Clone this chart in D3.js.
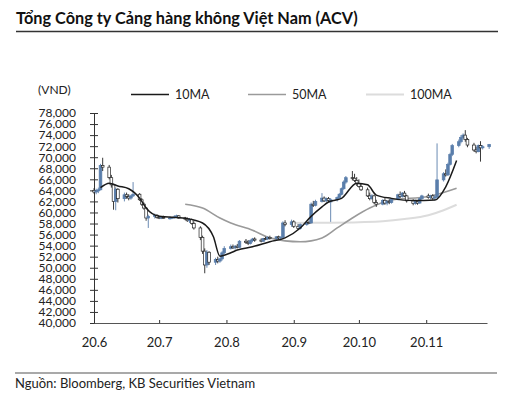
<!DOCTYPE html>
<html><head><meta charset="utf-8">
<script src="https://cdn.jsdelivr.net/npm/d3@7"></script>
<style>
html,body{margin:0;padding:0;background:#fff;}
svg{display:block;font-family:Lato,"Open Sans",sans-serif;}
</style></head>
<body><svg id="c" width="514" height="401"></svg>
<script>
// ---------- DATA ----------
const tradeDates = [
"2020-06-01","2020-06-02","2020-06-03","2020-06-04","2020-06-05","2020-06-08","2020-06-09","2020-06-10","2020-06-11","2020-06-12","2020-06-15","2020-06-16","2020-06-17","2020-06-18","2020-06-19","2020-06-22","2020-06-23","2020-06-24","2020-06-25","2020-06-26","2020-06-29","2020-06-30",
"2020-07-01","2020-07-02","2020-07-03","2020-07-06","2020-07-07","2020-07-08","2020-07-09","2020-07-10","2020-07-13","2020-07-14","2020-07-15","2020-07-16","2020-07-17","2020-07-20","2020-07-21","2020-07-22","2020-07-23","2020-07-24","2020-07-27","2020-07-28","2020-07-29","2020-07-30","2020-07-31",
"2020-08-03","2020-08-04","2020-08-05","2020-08-06","2020-08-07","2020-08-10","2020-08-11","2020-08-12","2020-08-13","2020-08-14","2020-08-17","2020-08-18","2020-08-19","2020-08-20","2020-08-21","2020-08-24","2020-08-25","2020-08-26","2020-08-27","2020-08-28","2020-08-31",
"2020-09-01","2020-09-03","2020-09-04","2020-09-07","2020-09-08","2020-09-09","2020-09-10","2020-09-11","2020-09-14","2020-09-15","2020-09-16","2020-09-17","2020-09-18","2020-09-21","2020-09-22","2020-09-23","2020-09-24","2020-09-25","2020-09-28","2020-09-29","2020-09-30",
"2020-10-01","2020-10-02","2020-10-05","2020-10-06","2020-10-07","2020-10-08","2020-10-09","2020-10-12","2020-10-13","2020-10-14","2020-10-15","2020-10-16","2020-10-19","2020-10-20","2020-10-21","2020-10-22","2020-10-23","2020-10-26","2020-10-27","2020-10-28","2020-10-29","2020-10-30",
"2020-11-02","2020-11-03","2020-11-04","2020-11-05","2020-11-06","2020-11-09","2020-11-10","2020-11-11","2020-11-12","2020-11-13","2020-11-16","2020-11-17","2020-11-18","2020-11-19","2020-11-20","2020-11-23","2020-11-24","2020-11-25","2020-11-26","2020-11-27","2020-11-30"];

const openP = [
64000,63700,63900,64100,68500,68200,66300,65000,62000,64200,62500,63200,62900,62600,63000,63300,62300,61500,60800,59000,59300,59500,
59100,59000,59100,59000,59000,59100,59200,59400,59000,58800,58500,58700,58000,57200,55500,53000,50500,52800,51000,51500,51200,51600,52700,
53500,53800,53600,53900,53700,54800,54600,54400,54900,55200,55000,54800,55300,55200,55500,55300,55600,55400,55500,58100,57800,
58300,57500,57100,57800,58200,58100,61500,61300,62000,62600,62100,62500,61900,62300,62700,63300,64300,65500,66300,66200,65800,
65200,64700,64100,63000,62500,63000,61800,61500,62200,61700,62000,61800,62400,63200,62900,63500,63000,62100,61600,62000,61700,62500,
63000,62700,63000,62600,62800,65900,67000,66800,68700,70500,72100,72800,73600,74000,73200,72200,71300,71000,72100,71700,71900];

const highP = [
64400,64300,64500,68800,69900,68600,66800,65200,64500,64400,63600,63600,63300,63200,65500,63500,62600,61800,61000,59600,59800,59700,
59400,59300,59400,59300,59200,59500,59600,59500,59200,59100,59000,58900,58400,57500,55800,53500,53200,53000,51800,52000,51800,53000,53900,
54200,54200,54100,54300,55000,55200,55000,55100,55400,55500,55300,55400,55600,55700,55800,55700,55800,55700,58400,58600,58700,
58600,57900,58000,58400,58500,61800,62100,62300,63500,62900,62700,62800,62600,62900,63500,64500,65800,66600,67500,67000,66400,
66000,65300,64500,63600,63300,63200,62300,62400,62600,62200,62400,62600,63400,63800,63700,63900,63200,62400,62300,62200,62700,63200,
63400,63200,63300,63100,72500,67300,67800,69000,70800,72400,73200,74000,74300,74900,73500,72600,71900,72300,72900,72200,72400];

const lowP = [
63400,63300,63500,64000,67500,66000,64500,60500,60400,61800,62000,62500,62200,62300,62800,62100,61200,60500,58500,57200,58900,58900,
58800,58800,58900,58700,58800,58900,59000,58900,58600,58300,58100,57800,56900,55000,52500,49000,50000,50500,50500,50800,50900,51300,52400,
53300,53400,53300,53500,53600,54300,54100,54200,54600,54700,54600,54700,55000,55000,55100,55100,55200,55100,55400,57500,57400,
57200,56800,56900,57600,57900,58000,61000,61100,61800,61900,61900,61900,58300,62000,62500,63100,64100,65200,65800,65500,64800,
64500,63900,62800,62200,62300,61500,61000,61300,61400,61300,61500,61600,62200,62600,62700,62800,61800,61300,61400,61400,61600,62300,
62500,62400,62300,62200,62600,65600,66500,66600,68500,70200,71800,72500,73200,72800,71800,71000,70700,70900,69200,71400,71500];

const closeP = [
63700,63900,64100,68500,68200,66300,65000,62000,64200,62500,63200,62900,62600,63000,63300,62300,61500,60800,59000,59300,59500,59100,
59000,59100,59000,59000,59100,59200,59400,59000,58800,58500,58700,58000,57200,55500,53000,50500,52800,51000,51500,51200,51600,52700,53500,
53800,53600,53900,53700,54800,54600,54400,54900,55200,55000,54800,55300,55200,55500,55300,55600,55400,55500,58100,57800,58300,
57500,57100,57800,58200,58100,61500,61300,62000,62600,62100,62500,62200,62300,62700,63300,64300,65500,66300,66200,65800,65200,
64700,64100,63000,62500,63000,61800,61500,62200,61700,62000,61800,62400,63200,62900,63500,63000,62100,61600,62000,61700,62500,63000,
62700,63000,62600,62800,65900,67000,66800,68700,70500,72100,72800,73600,74000,73200,72200,71300,71000,72100,71700,71900,72300];

const ma10Dates = ["2020-06-04","2020-06-08","2020-06-12","2020-06-17","2020-06-22","2020-06-25","2020-07-01","2020-07-13","2020-07-21","2020-07-26","2020-07-29","2020-08-03","2020-08-06","2020-08-13","2020-08-21","2020-08-28","2020-09-04","2020-09-09","2020-09-14","2020-09-17","2020-09-23","2020-09-30","2020-10-05","2020-10-09","2020-10-16","2020-10-26","2020-11-05","2020-11-10","2020-11-15"];
const ma10Vals  = [64500,65300,64800,64300,62600,60800,59300,58950,58100,55600,52100,52700,53200,53800,54700,55400,57200,59300,61000,61900,62550,65300,65000,63150,62550,62150,62250,64650,69400];

const ma50Dates = ["2020-07-13","2020-07-21","2020-07-29","2020-08-03","2020-08-13","2020-08-21","2020-09-04","2020-09-14","2020-09-21","2020-09-28","2020-10-06","2020-10-16","2020-11-02","2020-11-15"];
const ma50Vals  = [61500,60800,59000,58100,56800,55400,54700,55400,57200,59000,60800,62250,62900,64400];

const ma100Dates = ["2020-09-01","2020-09-15","2020-10-01","2020-10-12","2020-10-22","2020-11-02","2020-11-09","2020-11-15"];
const ma100Vals  = [58100,58150,58250,58400,58800,59500,60400,61400];

const yTickVals = [40000,42000,44000,46000,48000,50000,52000,54000,56000,58000,60000,62000,64000,66000,68000,70000,72000,74000,76000,78000];
const xTickDates = ["2020-06-01","2020-07-01","2020-08-01","2020-09-01","2020-10-01","2020-11-01"];
const xTickLabels = ["20.6","20.7","20.8","20.9","20.10","20.11"];
const legendNames = ["10MA","50MA","100MA"];

// ---------- DRAW ----------
const parse = d3.timeParse("%Y-%m-%d");
const svg = d3.select("#c");
const x = d3.scaleTime().domain([parse("2020-06-01"), parse("2020-11-29")]).range([94, 487]);
const y = d3.scaleLinear().domain([40000, 78000]).range([323, 113]);

const UP = "#5a7eab";
const textCol = "#222";

// title
svg.append("text").attr("x",16).attr("y",24).attr("font-size",16.3).attr("font-weight",700)
  .attr("fill","#111").text("Tổng Công ty Cảng hàng không Việt Nam (ACV)");
svg.append("line").attr("x1",16).attr("x2",498).attr("y1",31.5).attr("y2",31.5).attr("stroke","#333").attr("stroke-width",1.3);

// unit
svg.append("text").attr("x",38).attr("y",94).attr("font-size",12).attr("fill",textCol).text("(VND)");

// legend
const legCols = ["#1a1a1a","#9a9a9a","#dcdcdc"];
const legX = [131, 248, 366];
legendNames.forEach((n,i)=>{
  svg.append("line").attr("x1",legX[i]).attr("x2",legX[i]+38).attr("y1",94.5).attr("y2",94.5)
    .attr("stroke",legCols[i]).attr("stroke-width",i===2?2:1.6);
  svg.append("text").attr("x",legX[i]+44).attr("y",99).attr("font-size",12.5).attr("fill",textCol).text(n);
});

// axes
const yAxis = d3.axisLeft(y).tickValues(yTickVals).tickFormat(d3.format(",")).tickSizeInner(4).tickSizeOuter(0).tickPadding(14);
const gy = svg.append("g").attr("transform","translate(94,0)").call(yAxis);
gy.selectAll(".tick line").attr("x1",-4).attr("x2",4).attr("stroke","#333");
gy.select(".domain").attr("stroke","#333");
gy.selectAll("text").attr("font-size",12).attr("fill",textCol).attr("font-family","Lato");

const xAxis = d3.axisBottom(x).tickValues(xTickDates.map(parse)).tickFormat((d,i)=>xTickLabels[i]).tickSizeInner(-3).tickSizeOuter(0).tickPadding(15);
const gx = svg.append("g").attr("transform","translate(0,323)").call(xAxis);
gx.selectAll(".tick line").attr("stroke","#333");
gx.select(".domain").attr("stroke","#555").attr("stroke-width",1.2);
gx.selectAll("text").attr("font-size",13).attr("fill",textCol).attr("font-family","Lato");

// moving averages
const lineGen = d3.line().x(d=>x(d[0])).y(d=>y(d[1])).curve(d3.curveMonotoneX);
function maSeries(ds, vs){ return ds.map((d,i)=>[parse(d), vs[i]]); }
svg.append("path").datum(maSeries(ma100Dates, ma100Vals)).attr("d",lineGen).attr("fill","none").attr("stroke","#dcdcdc").attr("stroke-width",2);
svg.append("path").datum(maSeries(ma50Dates, ma50Vals)).attr("d",lineGen).attr("fill","none").attr("stroke","#9a9a9a").attr("stroke-width",1.6);

// candles
const candles = tradeDates.map((d,i)=>({date:parse(d), o:openP[i], h:highP[i], l:lowP[i], c:closeP[i]}));
const cg = svg.append("g");
const bw = 2.7;
candles.forEach(k=>{
  const up = k.c >= k.o;
  const cx = x(k.date);
  cg.append("line").attr("x1",cx).attr("x2",cx).attr("y1",y(k.h)).attr("y2",y(k.l))
    .attr("stroke", up ? UP : "#222").attr("stroke-width",0.9);
  const top = y(Math.max(k.o,k.c)), bot = y(Math.min(k.o,k.c));
  cg.append("rect").attr("x",cx-bw/2).attr("width",bw).attr("y",top).attr("height",Math.max(bot-top,0.8))
    .attr("fill", up ? UP : "#fff").attr("stroke", up ? UP : "#222").attr("stroke-width",0.7);
});

svg.append("path").datum(maSeries(ma10Dates, ma10Vals)).attr("d",lineGen).attr("fill","none").attr("stroke","#1a1a1a").attr("stroke-width",1.5);

// footer
svg.append("line").attr("x1",15).attr("x2",497).attr("y1",373).attr("y2",373).attr("stroke","#555").attr("stroke-width",1.2);
svg.append("text").attr("x",15).attr("y",388).attr("font-size",13).attr("fill",textCol).text("Nguồn: Bloomberg, KB Securities Vietnam");
</script></body></html>
